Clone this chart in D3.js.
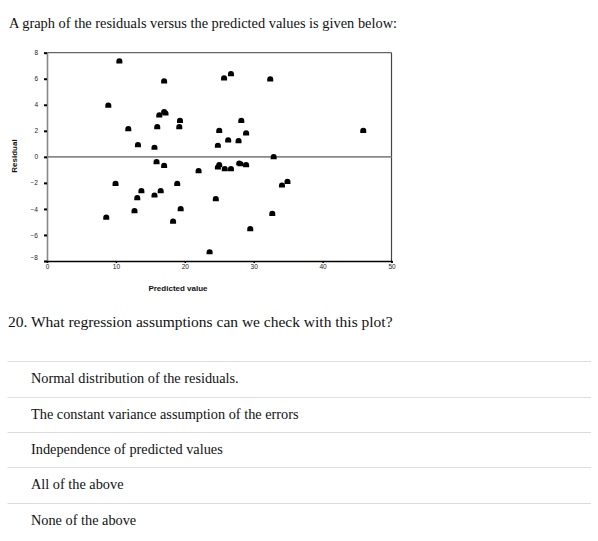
<!DOCTYPE html>
<html><head><meta charset="utf-8">
<script src="https://cdn.jsdelivr.net/npm/d3@7"></script>
<style>
body{margin:0;background:#fff;}
svg{display:block;}
</style></head>
<body>
<svg id="c" width="598" height="541"></svg>
<script>
const predicted = [10.5,8.9,11.8,13.2,15.6,16.0,16.3,17.0,17.0,17.2,19.3,19.2,15.9,17.0,22.0,9.95,18.9,13.7,16.5,13.1,15.6,12.7,19.4,8.6,18.3,
  25.7,26.7,32.4,28.2,25.0,28.9,26.3,27.8,24.8,45.9,32.9,25.0,24.8,25.8,26.7,27.9,28.1,28.9,34.1,34.9,24.5,32.7,29.5,23.6];
const residual = [7.3,3.9,2.1,0.87,0.67,2.26,3.15,5.77,3.4,3.3,2.74,2.26,-0.44,-0.72,-1.13,-2.1,-2.1,-2.67,-2.67,-3.2,-3.0,-4.2,-4.05,-4.7,-5.0,
  6.0,6.33,5.92,2.74,1.97,1.77,1.23,1.18,0.82,1.97,-0.05,-0.67,-0.85,-0.97,-0.97,-0.54,-0.6,-0.67,-2.23,-1.95,-3.28,-4.41,-5.59,-7.36];
const xTicks = [0,10,20,30,40,50];
const yTicks = [8,6,4,2,0,-2,-4,-6,-8];
const titleText = "A graph of the residuals versus the predicted values is given below:";
const questionText = "20. What regression assumptions can we check with this plot?";
const options = ["Normal distribution of the residuals.","The constant variance assumption of the errors","Independence of predicted values","All of the above","None of the above"];

const svg = d3.select("#c");
const x = d3.scaleLinear().domain([0,50]).range([47,391.5]);
const y = d3.scaleLinear().domain([-8,8]).range([261,52.7]);
const serif = "'Liberation Serif','Times New Roman',serif";
const sans = "'Liberation Sans',Arial,sans-serif";

svg.append("text").attr("x",9).attr("y",28)
  .style("font-family",serif).style("font-size","14.4px").attr("fill","#111")
  .text(titleText);

// frame top & right
svg.append("line").attr("x1",x(0)).attr("x2",x(50)).attr("y1",y(8)).attr("y2",y(8)).attr("stroke","#666").attr("stroke-width",1.3);
svg.append("line").attr("x1",x(50)).attr("x2",x(50)).attr("y1",y(8)).attr("y2",y(-8)).attr("stroke","#444").attr("stroke-width",1.2);
// zero line
svg.append("line").attr("x1",x(0)).attr("x2",x(50)).attr("y1",y(0)).attr("y2",y(0)).attr("stroke","#888").attr("stroke-width",1.6);

// y axis
const yAxis = svg.append("g").attr("transform",`translate(${x(0)},0)`)
  .call(d3.axisLeft(y).tickValues(yTicks).tickSize(3).tickPadding(6).tickFormat(d3.format("d")));
yAxis.select(".domain").attr("stroke","#888").attr("stroke-width",1.6);
yAxis.selectAll(".tick line").attr("stroke","#000").attr("stroke-width",2);
yAxis.selectAll(".tick text").style("font-family",sans).style("font-size","6.5px").attr("fill","#222")
  .attr("dy",d=>d===-8?"-0.3em":"0.32em");

// x axis
const xAxis = svg.append("g").attr("transform",`translate(0,${y(-8)})`)
  .call(d3.axisBottom(x).tickValues(xTicks).tickSize(2).tickPadding(1).tickFormat(d3.format("d")));
xAxis.select(".domain").attr("stroke","#000").attr("stroke-width",1.3);
xAxis.selectAll(".tick line").attr("stroke","#000").attr("stroke-width",1.5);
xAxis.selectAll(".tick text").style("font-family",sans).style("font-size","6.5px").attr("fill","#222");

// points (dome shaped markers)
const marker = "M-3,2.2 L-3,0 A3,3 0 0 1 3,0 L3,2.2 Z";
svg.append("g").selectAll("path").data(predicted.map((p,i)=>[p,residual[i]])).join("path")
  .attr("d",marker).attr("transform",d=>`translate(${x(d[0])},${y(d[1])-0.5})`).attr("fill","#000");

// axis titles
svg.append("text").attr("x",178).attr("y",291).attr("text-anchor","middle")
  .style("font-family",sans).style("font-size","8px").style("font-weight","bold").attr("fill","#111")
  .text("Predicted value");
svg.append("text").attr("transform","translate(17,156) rotate(-90)").attr("text-anchor","middle")
  .style("font-family",sans).style("font-size","8px").style("font-weight","bold").attr("fill","#111")
  .text("Residual");

svg.append("text").attr("x",8).attr("y",327)
  .style("font-family",serif).style("font-size","15.5px").attr("fill","#111")
  .text(questionText);

const lineYs = [361.5,397.5,432.5,467.5,503.5];
lineYs.forEach(ly=>{
  svg.append("line").attr("x1",7.5).attr("x2",591).attr("y1",ly).attr("y2",ly).attr("stroke","#ddd").attr("stroke-width",1);
});
svg.append("g").selectAll("text").data(options).join("text")
  .attr("x",31).attr("y",(d,i)=>lineYs[i]+21.5)
  .style("font-family",serif).style("font-size","14.3px").attr("fill","#111")
  .text(d=>d);
</script>
</body></html>
